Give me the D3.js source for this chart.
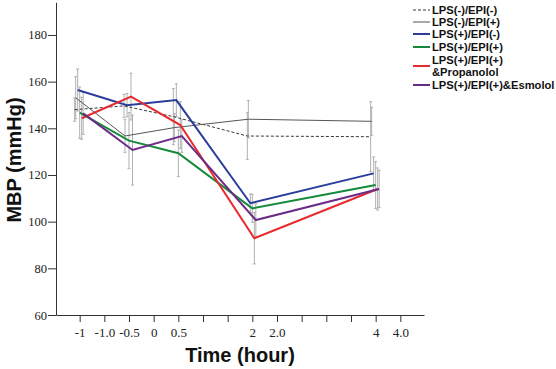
<!DOCTYPE html>
<html><head><meta charset="utf-8">
<script src="https://cdn.jsdelivr.net/npm/d3@7"></script>
<style>html,body{margin:0;padding:0;background:#fff;}svg{display:block;}</style>
</head><body>
<script>
// ---- data ----
const tickLabels = ["-1","-1.0","-0.5","0","0.5","","","2","2.0","","","","4","4.0"];
const timeLabels = ["-1","-0.5","0.5","2","4"];
const timeTickIndex = [0, 2, 4, 7, 12];
const yTicks = [60, 80, 100, 120, 140, 160, 180];
const seriesNames = ["LPS(-)/EPI(-)","LPS(-)/EPI(+)","LPS(+)/EPI(-)","LPS(+)/EPI(+)","LPS(+)/EPI(+)\n&Propanolol","LPS(+)/EPI(+)&Esmolol"];
const valsNegNeg   = [148.0, 149.6, 145.0, 136.7, 136.4];
const valsNegPos   = [153.1, 136.7, 140.3, 143.9, 143.0];
const valsPosNeg   = [156.4, 149.9, 152.1, 107.9, 120.7];
const valsPosPos   = [146.7, 134.7, 129.3, 105.7, 115.7];
const valsPropan   = [144.3, 153.6, 141.4,  92.9, 114.0];
const valsEsmolol  = [146.4, 130.7, 136.7, 100.7, 114.0];
const errNegNeg    = [5, 5, 12, 10, 15];
const errNegPos    = [9, 7, 6, 8, 6];
const errPosNeg    = [9, 5, 7, 4, 7];
const errPosPos    = [11, 12, 10, 6, 10];
const errPropan    = [9, 10, 10, 11, 9];
const errEsmolol   = [9, 15, 7, 7, 8];

// ---- styles ----
const allVals = [valsNegNeg, valsNegPos, valsPosNeg, valsPosPos, valsPropan, valsEsmolol];
const allErrs = [errNegNeg, errNegPos, errPosNeg, errPosPos, errPropan, errEsmolol];
const colors = ["#3a3a3a", "#555555", "#2a3c9c", "#168a3c", "#e62a2e", "#6b2c86"];
const widths = [1, 1, 2, 2, 2, 2];
const dashes = ["3,2", null, null, null, null, null];
const dodge = [-5, -4, -2, 0, 2, 3.5];

const W = 556, H = 369;
const svg = d3.select("body").append("svg").attr("width", W).attr("height", H);

const x = d3.scalePoint().domain(d3.range(tickLabels.length)).range([56, 424]).padding(0.96);
const y = d3.scaleLinear().domain([60, 194]).range([315, 2.3]);

// axes
const xAxis = d3.axisBottom(x).tickSize(7).tickSizeOuter(0).tickFormat(i => tickLabels[i]);
const gx = svg.append("g").attr("transform", "translate(0,315)").call(xAxis);
gx.select(".domain").attr("stroke", "#333");
gx.selectAll(".tick line").attr("stroke", "#333");
gx.selectAll(".tick text").attr("font-family", "Liberation Serif, serif").attr("font-size", 13).attr("fill", "#222").attr("dy", "0.9em");

const yAxis = d3.axisLeft(y).tickValues(yTicks).tickSize(8).tickSizeOuter(0);
const gy = svg.append("g").attr("transform", "translate(56,0)").call(yAxis);
gy.select(".domain").attr("stroke", "#333");
gy.selectAll(".tick line").attr("stroke", "#333");
gy.selectAll(".tick text").attr("font-family", "Liberation Serif, serif").attr("font-size", 12.5).attr("fill", "#222").attr("x", -9);

// titles
svg.append("text").attr("x", 240).attr("y", 362).attr("text-anchor", "middle")
  .attr("font-family", "Liberation Sans, Arial, sans-serif").attr("font-weight", "bold").attr("font-size", 20).attr("fill", "#111").text("Time (hour)");
svg.append("text").attr("transform", "translate(21,160) rotate(-90)").attr("text-anchor", "middle")
  .attr("font-family", "Liberation Sans, Arial, sans-serif").attr("font-weight", "bold").attr("font-size", 20).attr("fill", "#111").text("MBP (mmHg)");

// error bars
const px = (si, ti) => x(timeTickIndex[ti]) + dodge[si];
const eb = svg.append("g");
allVals.forEach((vals, si) => {
  vals.forEach((v, ti) => {
    const e = allErrs[si][ti];
    const cx = px(si, ti);
    eb.append("line").attr("x1", cx).attr("x2", cx).attr("y1", y(v + e)).attr("y2", y(v - e)).attr("stroke", "#b0b0b0").attr("stroke-width", 1);
    [v + e, v - e].forEach(w => eb.append("line").attr("x1", cx - 1.5).attr("x2", cx + 1.5).attr("y1", y(w)).attr("y2", y(w)).attr("stroke", "#b0b0b0").attr("stroke-width", 1));
  });
});

// lines
const line = d3.line().x(d => d[0]).y(d => y(d[1]));
allVals.forEach((vals, si) => {
  svg.append("path").datum(vals.map((v, ti) => [px(si, ti), v]))
    .attr("d", line).attr("fill", "none").attr("stroke", colors[si]).attr("stroke-width", widths[si])
    .attr("stroke-dasharray", dashes[si]).attr("stroke-linejoin", "miter");
});

// legend
const legY = [10, 22, 34, 47, 66, 85];
const lg = svg.append("g");
seriesNames.forEach((name, si) => {
  const yy = legY[si];
  lg.append("line").attr("x1", 413).attr("x2", 430).attr("y1", yy).attr("y2", yy)
    .attr("stroke", colors[si]).attr("stroke-width", widths[si]).attr("stroke-dasharray", dashes[si]);
  const parts = name.split("\n");
  const t = lg.append("text").attr("font-family", "Liberation Sans, Arial, sans-serif").attr("font-weight", "bold")
    .attr("font-size", 11.2).attr("fill", "#111");
  parts.forEach((p, k) => {
    t.append("tspan").attr("x", 432).attr("y", yy + 4 + (k - (parts.length - 1) / 2) * 12).text(p);
  });
});
</script>
</body></html>
